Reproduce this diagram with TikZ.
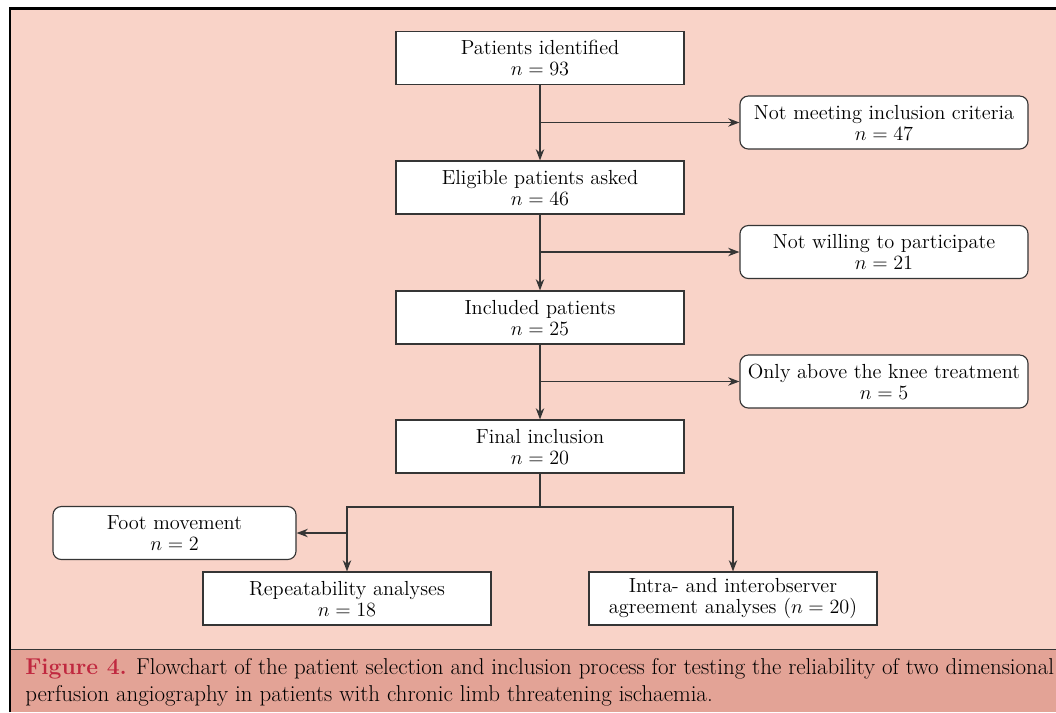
\documentclass[tikz,border=0pt]{standalone}
\usetikzlibrary{arrows.meta}

\definecolor{bgpink}{HTML}{F9D3C8}
\definecolor{capband}{HTML}{E3A396}
\definecolor{figred}{HTML}{C0283F}
\definecolor{linegray}{HTML}{353535}

\tikzset{
    mainbox/.style={draw=linegray, fill=white, line width=0.8pt,
        minimum width=7.2cm, minimum height=1.325cm, align=center, inner sep=0pt},
    sidebox/.style={mainbox, rounded corners=6pt},
    link/.style={draw=linegray, line width=0.8pt},
    flow/.style={link, -{Stealth[length=8pt, width=6pt]}}
}

\begin{document}
\begin{tikzpicture}[x=0.025cm, y=-0.025cm, font=\fontsize{14.5}{15}\selectfont]

        % --- Cornice e fondo ---
        \useasboundingbox (0,0) rectangle (1056,712);
        \fill[bgpink] (11,9) rectangle (1056,712);
        \fill[capband] (11,649) rectangle (1056,712);
        \draw[linegray, line width=0.7pt] (11,649) -- (1056,649);
        \draw[line width=1.6pt] (10,712) -- (10,8.5) -- (1056,8.5);

        % --- Colonna principale ---
        \node[mainbox] (pat) at (540,58) {Patients identified\\$n = 93$};
        \node[mainbox] (elig) at (540,187.5) {Eligible patients asked\\$n = 46$};
        \node[mainbox] (incl) at (540,317.5) {Included patients\\$n = 25$};
        \node[mainbox] (final) at (540,446.5) {Final inclusion\\$n = 20$};

        % --- Esclusioni a destra ---
        \node[sidebox] (notmeet) at (884,122.5) {Not meeting inclusion criteria\\$n = 47$};
        \node[sidebox] (notwill) at (884,252) {Not willing to participate\\$n = 21$};
        \node[sidebox] (above) at (884,381.5) {Only above the knee treatment\\$n = 5$};

        % --- Analisi in basso ---
        \node[sidebox, minimum width=6.075cm] (foot) at (174.5,533) {Foot movement\\$n = 2$};
        \node[mainbox] (rep) at (347,598.5) {Repeatability analyses\\$n = 18$};
        \node[mainbox] (intra) at (733,598.5) {Intra- and interobserver\\agreement analyses ($n = 20$)};
        \coordinate (split) at (540,507);

        % --- Frecce ---
        \draw[flow] (pat) -- (elig);
        \draw[flow] (elig) -- (incl);
        \draw[flow] (incl) -- (final);
        \draw[flow] (pat.south |- notmeet.west) -- (notmeet.west);
        \draw[flow] (elig.south |- notwill.west) -- (notwill.west);
        \draw[flow] (incl.south |- above.west) -- (above.west);
        \draw[link] (final.south) -- (split);
        \draw[flow] (split) -| (rep.north);
        \draw[flow] (split) -| (intra.north);
        \draw[flow] (rep.north |- foot.east) -- (foot.east);

        % --- Didascalia ---
        \node[anchor=north west, align=left, inner sep=0pt,
              font=\fontsize{16.3}{19}\selectfont] (caption) at (25,658)
            {\textcolor{figred}{\textbf{Figure 4.}} Flowchart of the patient selection and inclusion process for testing the reliability of two dimensional\\
             perfusion angiography in patients with chronic limb threatening ischaemia.};

    \end{tikzpicture}
\end{document}
